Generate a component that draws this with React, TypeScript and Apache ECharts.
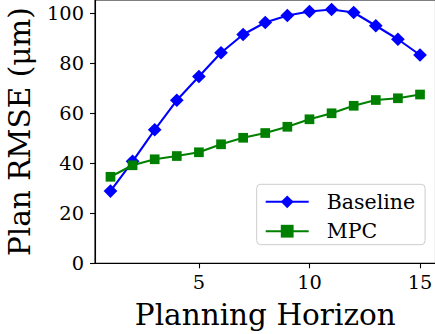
import React, { useEffect, useRef } from "react";
import * as echarts from "echarts";

const horizons = [1, 2, 3, 4, 5, 6, 7, 8, 9, 10, 11, 12, 13, 14, 15];
const baseline = [28.9, 40.8, 53.4, 65.2, 74.7, 84.2, 91.5, 96.3, 99.1, 100.7, 101.5, 100.3, 95.0, 89.6, 83.3];
const mpc = [34.6, 39.2, 41.6, 42.9, 44.4, 47.6, 50.2, 52.1, 54.6, 57.6, 60.0, 63.0, 65.3, 66.0, 67.5];
const xTicks = [5, 10, 15];
const yTicks = [0, 20, 40, 60, 80, 100];

const FONT = "DejaVu Serif";

export default function App() {
  const ref = useRef<HTMLDivElement>(null);
  useEffect(() => {
    document.body.style.margin = "0";
    const chart = echarts.init(ref.current!, null, { renderer: "svg" });
    chart.setOption({
      animation: false,
      backgroundColor: "#ffffff",
      textStyle: { fontFamily: FONT },
      grid: {
        left: 95,
        right: -0.5,
        top: 0,
        bottom: 70.7,
        containLabel: false,
        outerBoundsMode: "none",
        show: true,
        borderColor: "#000",
        borderWidth: 1.1,
      },
      xAxis: {
        type: "value",
        min: 0.3,
        max: 15.7,
        name: "Planning Horizon",
        nameLocation: "middle",
        nameGap: 37,
        nameTextStyle: { fontFamily: FONT, fontSize: 29.5, color: "#000" },
        splitLine: { show: false },
        axisLine: { lineStyle: { color: "#000", width: 1.1 } },
        axisTick: { customValues: xTicks, length: 5, lineStyle: { color: "#000", width: 1.1 } },
        axisLabel: { customValues: xTicks, fontFamily: FONT, fontSize: 19.4, color: "#000", margin: 10 },
      },
      yAxis: {
        type: "value",
        min: 0,
        max: 105.3,
        name: "Plan RMSE (μm)",
        nameLocation: "middle",
        nameGap: 60,
        nameTextStyle: { fontFamily: FONT, fontSize: 29.5, color: "#000" },
        splitLine: { show: false },
        axisLine: { lineStyle: { color: "#000", width: 1.1 } },
        axisTick: { customValues: yTicks, length: 5, lineStyle: { color: "#000", width: 1.1 } },
        axisLabel: { customValues: yTicks, fontFamily: FONT, fontSize: 19.4, color: "#000", margin: 11 },
      },
      legend: {
        orient: "vertical",
        left: 256.7,
        top: 184.3,
        padding: [7, 10, 3, 8],
        itemGap: 8.4,
        itemWidth: 43,
        itemHeight: 16,
        backgroundColor: "rgba(255,255,255,0.8)",
        borderColor: "#cccccc",
        borderWidth: 1,
        borderRadius: 4,
        textStyle: { fontFamily: FONT, fontSize: 20.5, color: "#000", lineHeight: 20, padding: [0, 0, 0, 13] },
        data: ["Baseline", "MPC"],
      },
      series: [
        {
          name: "Baseline",
          type: "line",
          data: horizons.map((h, i) => [h, baseline[i]]),
          symbol: "diamond",
          symbolSize: [13.7, 13.7],
          color: "#0000ff",
          lineStyle: { color: "#0000ff", width: 2.1 },
          itemStyle: { color: "#0000ff" },
        },
        {
          name: "MPC",
          type: "line",
          data: horizons.map((h, i) => [h, mpc[i]]),
          symbol: "rect",
          symbolSize: [9.7, 9.7],
          color: "#008000",
          lineStyle: { color: "#008000", width: 2.1 },
          itemStyle: { color: "#008000" },
        },
      ],
    });
    return () => chart.dispose();
  }, []);
  return <div ref={ref} style={{ position: "absolute", left: 0, top: 0, width: 435, height: 334 }} />;
}
